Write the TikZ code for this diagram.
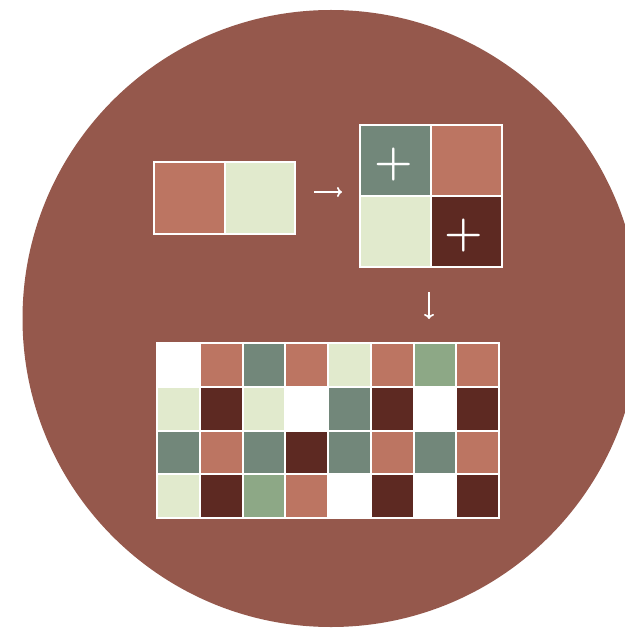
\documentclass[tikz,border=0pt]{standalone}
\usepackage{fontspec}
\usetikzlibrary{arrows.meta}
\definecolor{bgbrown}{RGB}{149,88,76}
\definecolor{salmon}{RGB}{188,117,98}
\definecolor{palegreen}{RGB}{225,234,205}
\definecolor{greygreen}{RGB}{114,135,122}
\definecolor{darkbrown}{RGB}{93,41,34}
\definecolor{sage}{RGB}{141,168,134}
\tikzset{
  cell/.style={draw=white,line width=2pt,inner sep=0pt,minimum width=70.5pt,minimum height=71pt},
  gcell/.style={draw=white,line width=2pt,inner sep=0pt,minimum width=42.75pt,minimum height=43.75pt},
  arr/.style={white,line width=1.7pt,-{To[length=5pt,width=10pt]}},
  plus/.style={white,inner sep=0pt,font=\fontsize{44}{44}\selectfont\bfseries}
}
\begin{document}
\begin{tikzpicture}[x=1pt,y=-1pt]
\useasboundingbox (0,0) rectangle (624,628);
\fill[white] (0,0) rectangle (624,628);
\fill[bgbrown] (331,318.5) circle (308.5pt);

% pair of cells
\node[cell,fill=salmon] (pairL) at (189.25,198) {};
\node[cell,fill=palegreen] (pairR) at (259.75,198) {};

% two by two block
\node[cell,fill=greygreen] (quadTL) at (395.5,160.5) {};
\node[cell,fill=salmon] (quadTR) at (466.5,160.5) {};
\node[cell,fill=palegreen] (quadBL) at (395.5,231.5) {};
\node[cell,fill=darkbrown] (quadBR) at (466.5,231.5) {};
\node[draw=white,line width=2pt,inner sep=0pt,minimum size=142pt] (quad) at (431,196) {};
\node[plus,anchor=base] (plusA) at (393.5,176) {+};
\node[plus,anchor=base] (plusB) at (463.5,246) {+};

% big grid
\foreach \row [count=\r] in {
  {white,salmon,greygreen,salmon,palegreen,salmon,sage,salmon},
  {palegreen,darkbrown,palegreen,white,greygreen,darkbrown,white,darkbrown},
  {greygreen,salmon,greygreen,darkbrown,greygreen,salmon,greygreen,salmon},
  {palegreen,darkbrown,sage,salmon,white,darkbrown,white,darkbrown}}
{
  \foreach \c [count=\k] in \row
    \node[gcell,fill=\c] (g\r\k) at (157+42.75*\k-21.375,343+43.75*\r-21.875) {};
}
\node[draw=white,line width=2pt,inner sep=0pt,minimum width=342pt,minimum height=175pt] (grid) at (328,430.5) {};

% arrows
\draw[arr,shorten <=18pt,shorten >=17pt] ([yshift=6pt]pairR.east) -- ([yshift=4pt]quad.west);
\draw[arr,shorten <=24pt,shorten >=23pt] ([xshift=-2pt]quad.south) -- ([xshift=-2pt]quad.south |- grid.north);
\end{tikzpicture}
\end{document}
